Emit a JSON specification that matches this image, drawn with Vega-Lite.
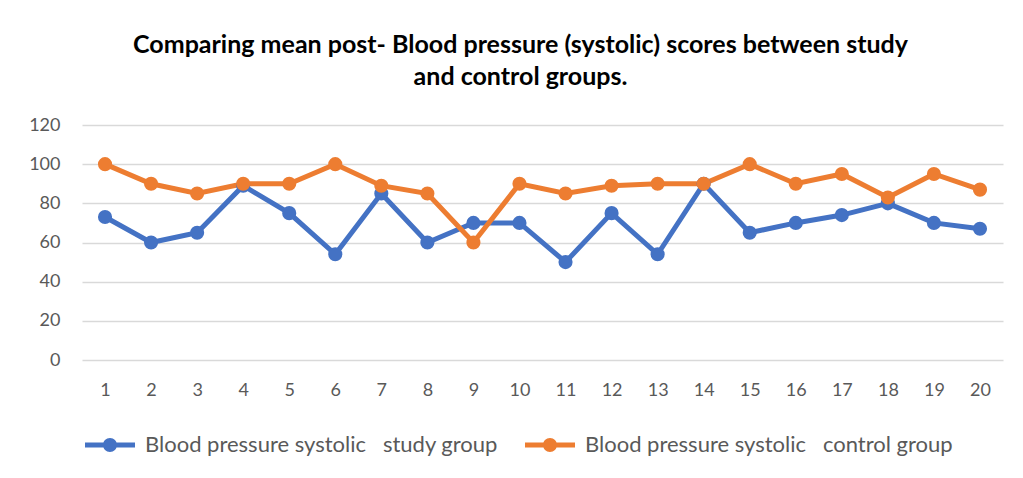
{
  "$schema": "https://vega.github.io/schema/vega-lite/v6.json",
  "width": 921,
  "height": 235,
  "autosize": {"type": "none"},
  "padding": {"left": 82, "top": 125, "right": 20, "bottom": 118},
  "background": "white",
  "config": {
    "view": {"stroke": null},
    "font": "Lato, sans-serif"
  },
  "title": {
    "text": ["Comparing mean post- Blood pressure (systolic) scores between study", "and control groups."],
    "fontSize": 25,
    "fontWeight": "bold",
    "color": "#000000",
    "font": "Lato, sans-serif",
    "anchor": "middle",
    "frame": "group",
    "dx": -22,
    "lineHeight": 32,
    "offset": 26
  },
  "data": {
    "values": [
      {"n": 1, "series": "Blood pressure systolic\u00a0\u00a0 study group", "value": 73},
      {"n": 2, "series": "Blood pressure systolic\u00a0\u00a0 study group", "value": 60},
      {"n": 3, "series": "Blood pressure systolic\u00a0\u00a0 study group", "value": 65},
      {"n": 4, "series": "Blood pressure systolic\u00a0\u00a0 study group", "value": 89},
      {"n": 5, "series": "Blood pressure systolic\u00a0\u00a0 study group", "value": 75},
      {"n": 6, "series": "Blood pressure systolic\u00a0\u00a0 study group", "value": 54},
      {"n": 7, "series": "Blood pressure systolic\u00a0\u00a0 study group", "value": 85},
      {"n": 8, "series": "Blood pressure systolic\u00a0\u00a0 study group", "value": 60},
      {"n": 9, "series": "Blood pressure systolic\u00a0\u00a0 study group", "value": 70},
      {"n": 10, "series": "Blood pressure systolic\u00a0\u00a0 study group", "value": 70},
      {"n": 11, "series": "Blood pressure systolic\u00a0\u00a0 study group", "value": 50},
      {"n": 12, "series": "Blood pressure systolic\u00a0\u00a0 study group", "value": 75},
      {"n": 13, "series": "Blood pressure systolic\u00a0\u00a0 study group", "value": 54},
      {"n": 14, "series": "Blood pressure systolic\u00a0\u00a0 study group", "value": 90},
      {"n": 15, "series": "Blood pressure systolic\u00a0\u00a0 study group", "value": 65},
      {"n": 16, "series": "Blood pressure systolic\u00a0\u00a0 study group", "value": 70},
      {"n": 17, "series": "Blood pressure systolic\u00a0\u00a0 study group", "value": 74},
      {"n": 18, "series": "Blood pressure systolic\u00a0\u00a0 study group", "value": 80},
      {"n": 19, "series": "Blood pressure systolic\u00a0\u00a0 study group", "value": 70},
      {"n": 20, "series": "Blood pressure systolic\u00a0\u00a0 study group", "value": 67},
      {"n": 1, "series": "Blood pressure systolic\u00a0\u00a0 control group", "value": 100},
      {"n": 2, "series": "Blood pressure systolic\u00a0\u00a0 control group", "value": 90},
      {"n": 3, "series": "Blood pressure systolic\u00a0\u00a0 control group", "value": 85},
      {"n": 4, "series": "Blood pressure systolic\u00a0\u00a0 control group", "value": 90},
      {"n": 5, "series": "Blood pressure systolic\u00a0\u00a0 control group", "value": 90},
      {"n": 6, "series": "Blood pressure systolic\u00a0\u00a0 control group", "value": 100},
      {"n": 7, "series": "Blood pressure systolic\u00a0\u00a0 control group", "value": 89},
      {"n": 8, "series": "Blood pressure systolic\u00a0\u00a0 control group", "value": 85},
      {"n": 9, "series": "Blood pressure systolic\u00a0\u00a0 control group", "value": 60},
      {"n": 10, "series": "Blood pressure systolic\u00a0\u00a0 control group", "value": 90},
      {"n": 11, "series": "Blood pressure systolic\u00a0\u00a0 control group", "value": 85},
      {"n": 12, "series": "Blood pressure systolic\u00a0\u00a0 control group", "value": 89},
      {"n": 13, "series": "Blood pressure systolic\u00a0\u00a0 control group", "value": 90},
      {"n": 14, "series": "Blood pressure systolic\u00a0\u00a0 control group", "value": 90},
      {"n": 15, "series": "Blood pressure systolic\u00a0\u00a0 control group", "value": 100},
      {"n": 16, "series": "Blood pressure systolic\u00a0\u00a0 control group", "value": 90},
      {"n": 17, "series": "Blood pressure systolic\u00a0\u00a0 control group", "value": 95},
      {"n": 18, "series": "Blood pressure systolic\u00a0\u00a0 control group", "value": 83},
      {"n": 19, "series": "Blood pressure systolic\u00a0\u00a0 control group", "value": 95},
      {"n": 20, "series": "Blood pressure systolic\u00a0\u00a0 control group", "value": 87}
    ]
  },
  "encoding": {
    "x": {
      "field": "n",
      "type": "ordinal",
      "scale": {"type": "point", "padding": 0.5},
      "axis": {
        "title": null,
        "labelAngle": 0,
        "domain": false,
        "ticks": false,
        "labelPadding": 21,
        "labelFontSize": 18,
        "labelColor": "#595959",
        "labelFont": "Lato, sans-serif"
      }
    },
    "y": {
      "field": "value",
      "type": "quantitative",
      "scale": {"domain": [0, 120], "nice": false},
      "axis": {
        "title": null,
        "values": [0, 20, 40, 60, 80, 100, 120],
        "domain": false,
        "ticks": false,
        "labelPadding": 22,
        "labelFontSize": 18,
        "labelColor": "#595959",
        "labelFont": "Lato, sans-serif",
        "gridColor": "#d9d9d9",
        "gridWidth": 1.5
      }
    },
    "color": {
      "field": "series",
      "type": "nominal",
      "scale": {
        "domain": ["Blood pressure systolic\u00a0\u00a0 study group", "Blood pressure systolic\u00a0\u00a0 control group"],
        "range": ["#4472C4", "#ED7D31"]
      },
      "legend": {
        "title": null,
        "orient": "none",
        "direction": "horizontal",
        "legendX": 3,
        "legendY": 295,
        "symbolType": "M -1 -0.1 L 1 -0.1 L 1 0.1 L -1 0.1 Z M 0.28 0 A 0.28 0.28 0 1 1 -0.28 0 A 0.28 0.28 0 1 1 0.28 0 Z",
        "symbolSize": 2500,
        "symbolStrokeWidth": 0,
        "labelFontSize": 22,
        "labelColor": "#595959",
        "labelFont": "Lato, sans-serif",
        "labelLimit": 600,
        "labelOffset": 10,
        "columnPadding": 27
      }
    }
  },
  "layer": [
    {
      "mark": {"type": "line", "strokeWidth": 5}
    },
    {
      "mark": {"type": "point", "filled": true, "size": 200, "opacity": 1}
    }
  ]
}
